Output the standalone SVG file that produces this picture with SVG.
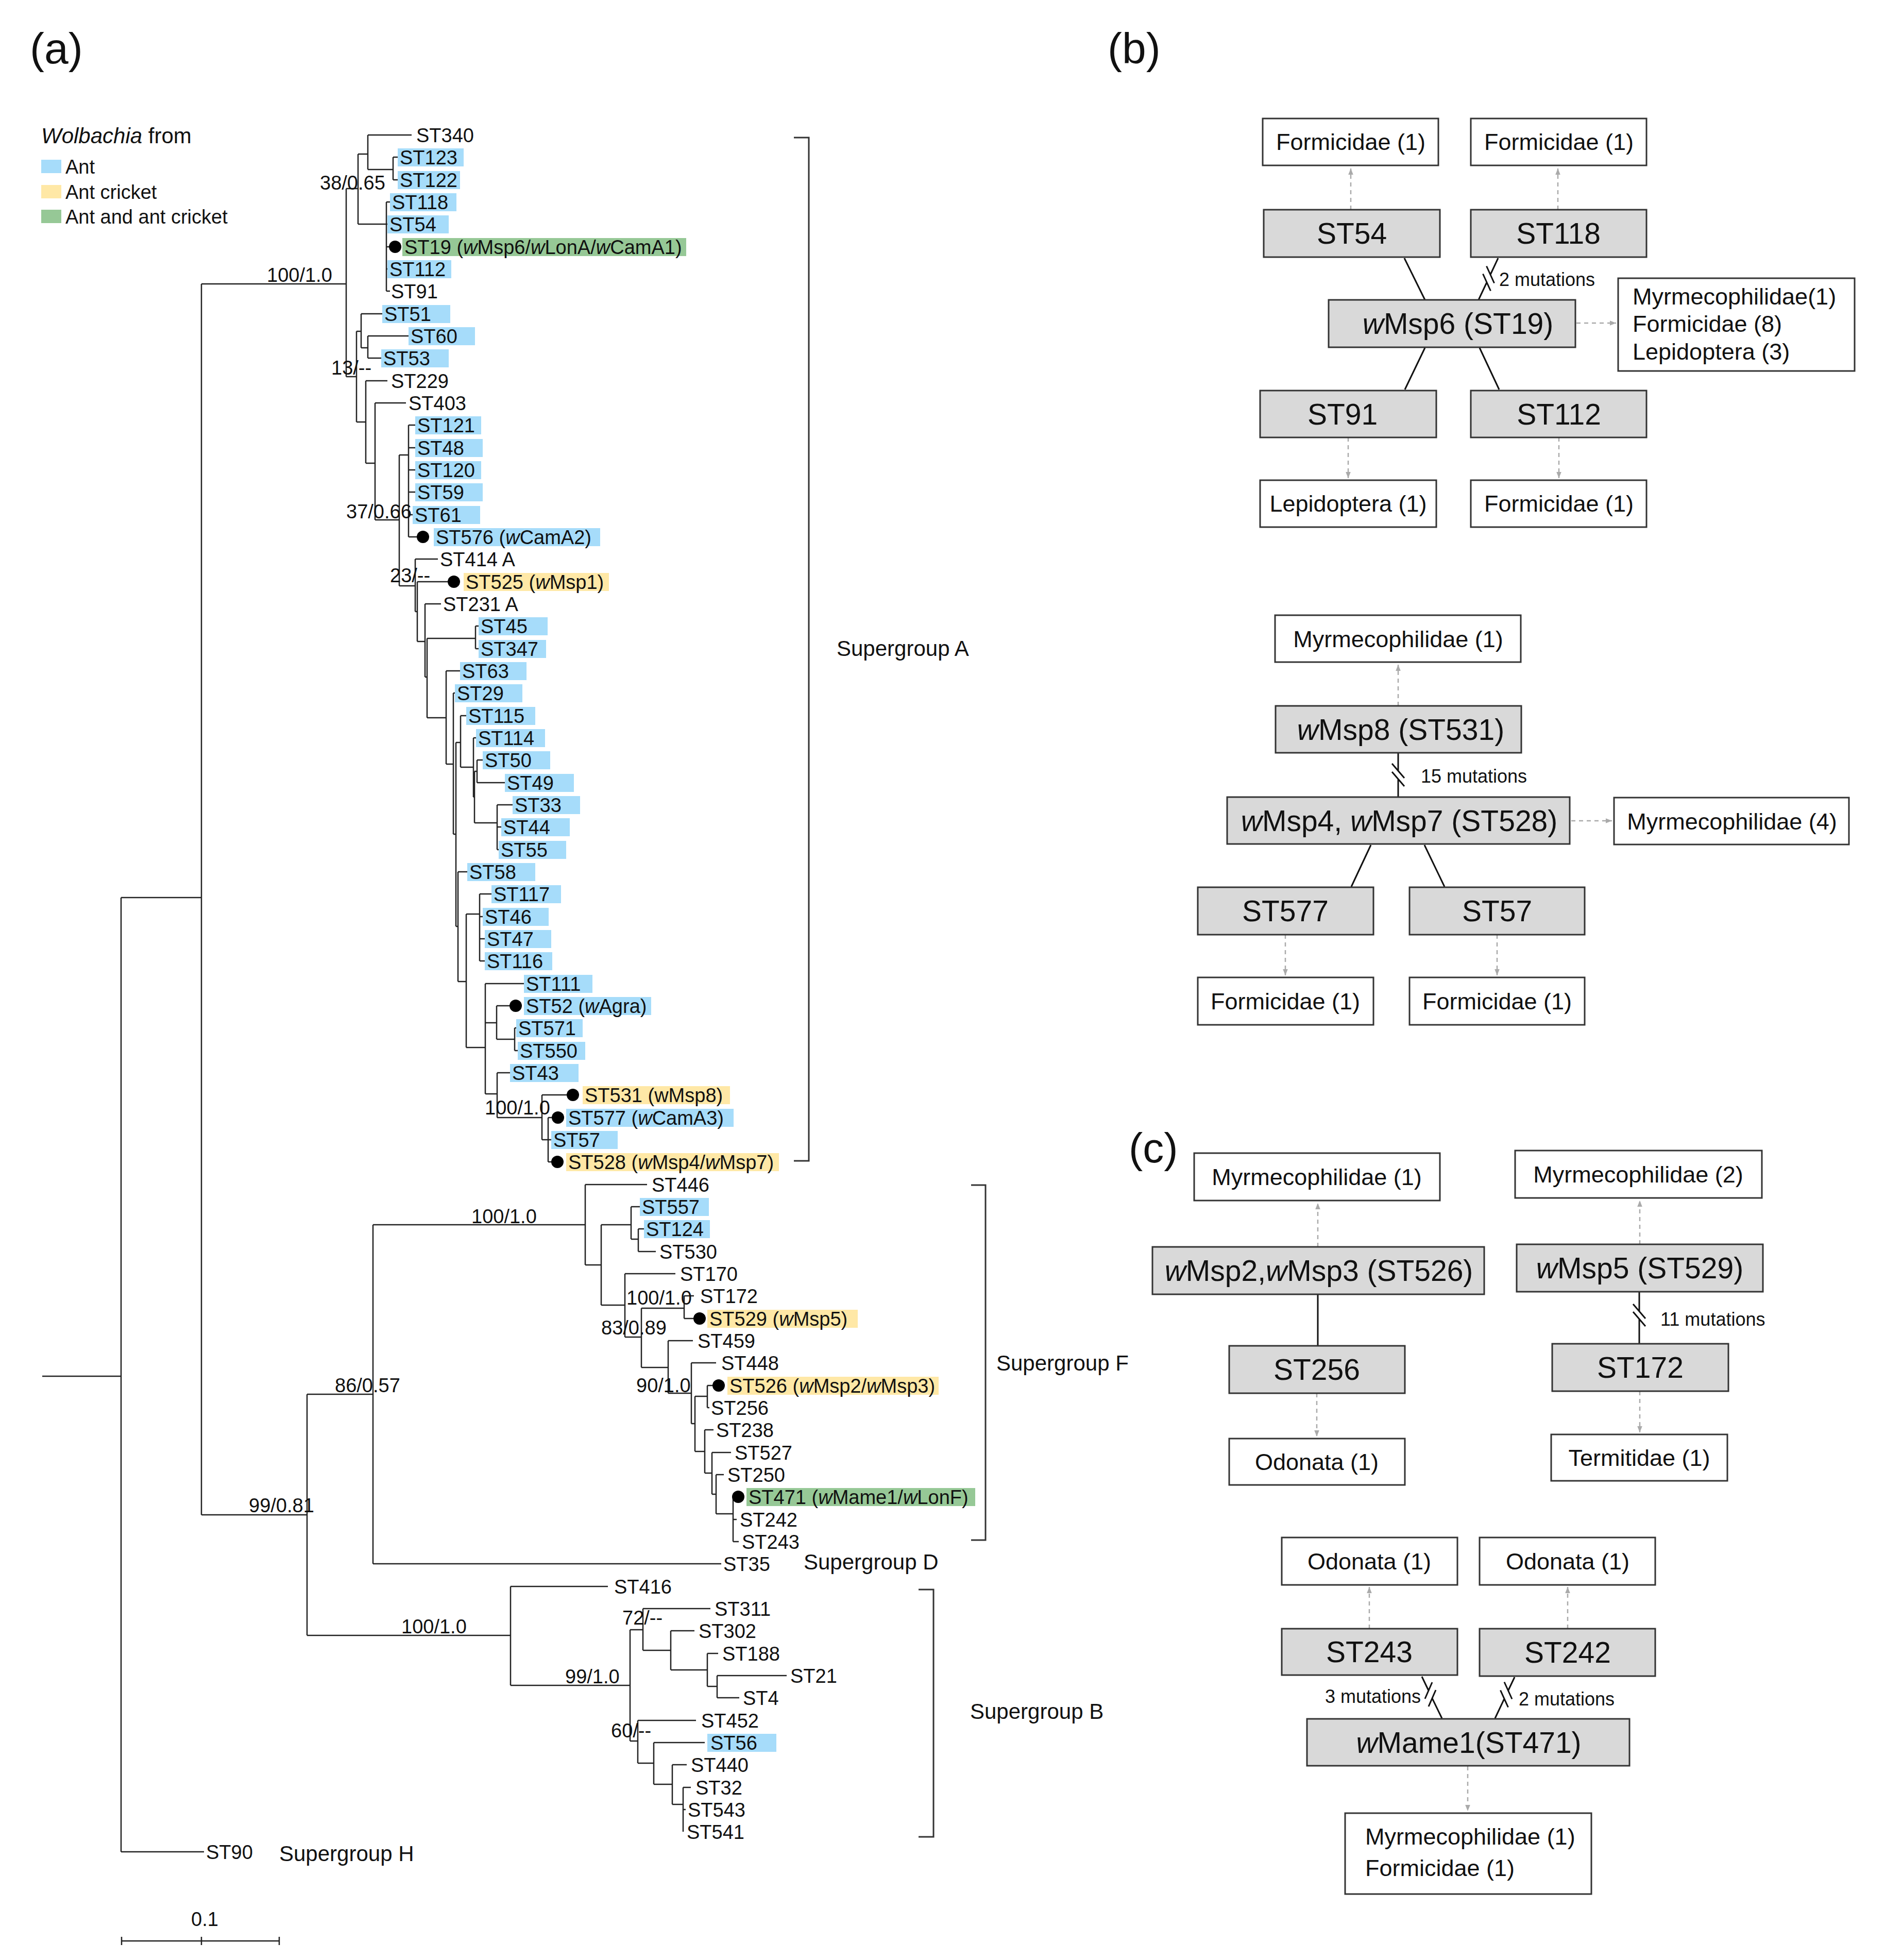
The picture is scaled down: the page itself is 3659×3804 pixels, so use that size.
<svg xmlns="http://www.w3.org/2000/svg" width="3659" height="3804" viewBox="0 0 3659 3804">
<style>
text { font-family: "Liberation Sans", Arial, sans-serif; fill: #111; }
.lf { font-size: 38px; }
.sg { font-size: 42px; }
.pl { font-size: 84px; }
.tr { fill: none; stroke: #222; stroke-width: 2.5; }
.br { fill: none; stroke: #333; stroke-width: 3; }
.ant { fill: #a6dcfa; }
.cri { fill: #ffe8a6; }
.grn { fill: #96c896; }
.dot { fill: #000; }
.gbox { fill: #d9d9d9; stroke: #333; stroke-width: 3; }
.wbox { fill: #fff; stroke: #333; stroke-width: 3; }
.gt { font-size: 57px; text-anchor: middle; }
.wt { font-size: 45px; text-anchor: middle; }
.wl { font-size: 45px; }
.mt { font-size: 36px; }
.sol { stroke: #111; stroke-width: 3; fill: none; }
.dash { stroke: #aaa; stroke-width: 2.5; stroke-dasharray: 8 7; fill: none; marker-end: url(#ah); }
.it { font-style: italic; }
</style>
<defs>
<marker id="ah" viewBox="0 0 10 10" refX="10" refY="5" markerWidth="13" markerHeight="12" markerUnits="userSpaceOnUse" orient="auto"><path d="M0,1 L10,5 L0,9 z" fill="#aaa"/></marker>
</defs>
<rect x="0" y="0" width="3659" height="3804" fill="#fff"/>

<!-- panel labels -->
<text class="pl" x="58" y="123">(a)</text>
<text class="pl" x="2150" y="123">(b)</text>
<text class="pl" x="2191" y="2256" style="font-size:82px">(c)</text>

<!-- legend -->
<g id="legend">
<text x="80" y="278" style="font-size:42px"><tspan class="it">Wolbachia</tspan> from</text>
<rect class="ant" x="80" y="310" width="39" height="26"/>
<text class="lf" x="127" y="337">Ant</text>
<rect class="cri" x="80" y="359" width="39" height="26"/>
<text class="lf" x="127" y="386">Ant cricket</text>
<rect class="grn" x="80" y="407" width="39" height="26"/>
<text class="lf" x="127" y="434">Ant and ant cricket</text>
</g>

<!-- tree connectors -->
<g id="tree-connectors">
<path class="tr" d="M82,2671H235 M235,1742V3594 M235,1742H391 M391,551V2940 M391,551H672
M672,366V731 M672,366H695 M695,299V435 M695,299H714 M714,262V329 M714,262H799 M714,329H763
M763,305V349 M763,305H772 M763,349H772 M695,435H750 M750,392V565 M750,392H757 M750,435H752
M750,479H755 M750,522H752 M750,565H757
M672,731H692 M692,643V819 M692,643H701 M701,609V675 M701,609H742 M701,675H714 M714,652V695
M714,652H793 M714,695H740 M692,819H710 M710,739V899 M710,739H752 M710,899H728 M728,782V1009
M728,782H788 M728,1009H775 M775,883V1137 M775,883H793 M793,825V1042 M793,825H806 M793,869H806
M793,912H806 M793,955H806 M793,999H801 M793,1042H809
M775,1137H806 M806,1085V1187 M806,1085H850 M806,1187H810 M810,1129V1245 M810,1129H869
M810,1245H825 M825,1172V1314 M825,1172H856 M825,1314H829 M829,1239V1393 M829,1239H923
M923,1215V1259 M923,1215H929 M923,1259H929 M829,1393H866 M866,1302V1483 M866,1302H893
M866,1483H880 M880,1345V1619 M880,1345H883 M880,1619H885 M885,1441V1798 M885,1441H894
M894,1389V1489 M894,1389H905 M894,1489H919 M919,1432V1547 M919,1432H924 M919,1547H921
M921,1497V1597 M921,1497H926 M926,1475V1519 M926,1475H937 M926,1519H980 M921,1597H965
M965,1562V1649 M965,1562H995 M965,1605H973 M965,1649H968
M885,1798H889 M889,1692V1905 M889,1692H907 M889,1905H905 M905,1774V2033 M905,1774H931
M931,1735V1865 M931,1735H954 M931,1779H937 M931,1822H941 M931,1865H941
M905,2033H942 M942,1909V2123 M942,1909H1017 M942,1985H964 M964,1952V2017 M964,1952H989
M964,2017H999 M999,1995V2039 M999,1995H1002 M999,2039H1005 M942,2123H965 M965,2082V2169
M965,2082H990 M965,2169H1052 M1052,2125V2212 M1052,2125H1100 M1052,2212H1064 M1064,2169V2255
M1064,2169H1071 M1064,2212H1070 M1064,2255H1070
M391,2940H596 M596,2706V3174 M596,2706H724 M724,2377V3035 M724,2377H1136 M724,3035H1400
M1136,2299V2455 M1136,2299H1256 M1136,2455H1167 M1167,2377V2533 M1167,2377H1225
M1225,2342V2405 M1225,2342H1242 M1225,2405H1239 M1239,2385V2429 M1239,2385H1250 M1239,2429H1273
M1167,2533H1213 M1213,2472V2595 M1213,2472H1311 M1213,2595H1245 M1245,2539V2654 M1245,2539H1328
M1328,2515V2559 M1328,2515H1347 M1328,2559H1346 M1245,2654H1297 M1297,2602V2704 M1297,2602H1345
M1297,2704H1342 M1342,2645V2763 M1342,2645H1390 M1342,2763H1349 M1349,2710V2817 M1349,2710H1373
M1373,2689V2732 M1373,2689H1383 M1373,2732H1377 M1349,2817H1368 M1368,2775V2859 M1368,2775H1385
M1368,2859H1382 M1382,2819V2900 M1382,2819H1419 M1382,2900H1390 M1390,2862V2938 M1390,2862H1405
M1390,2938H1423 M1423,2905V2992 M1423,2949H1430 M1423,2992H1434
M596,3174H991 M991,3079V3271 M991,3079H1180 M991,3271H1223 M1223,3163V3379 M1223,3163H1248
M1248,3122V3203 M1248,3122H1379 M1248,3203H1302 M1302,3165V3241 M1302,3165H1348 M1302,3241H1373
M1373,3209V3273 M1373,3209H1394 M1373,3273H1392 M1392,3252V3295 M1392,3252H1527 M1392,3295H1435
M1223,3379H1238 M1238,3339V3422 M1238,3339H1351 M1238,3422H1269 M1269,3382V3463 M1269,3382H1368
M1269,3463H1305 M1305,3425V3502 M1305,3425H1333 M1305,3502H1326 M1326,3469V3555 M1326,3469H1341
M1326,3512H1331 M235,3594H396"/>
<path class="tr" d="M236,3767H542 M236,3759V3775 M391,3759V3775 M542,3759V3775"/>
<path class="br" d="M1541,267H1570V2253H1541 M1885,2300H1913V2989H1885 M1783,3085H1812V3565H1783"/>
</g>

<!-- support values and group labels -->
<g id="tree-labels">
<text class="lf" x="518" y="547">100/1.0</text>
<text class="lf" x="621" y="368">38/0.65</text>
<text class="lf" x="643" y="727">13/--</text>
<text class="lf" x="672" y="1006">37/0.66</text>
<text class="lf" x="757" y="1130">23/--</text>
<text class="lf" x="941" y="2163">100/1.0</text>
<text class="lf" x="915" y="2374">100/1.0</text>
<text class="lf" x="1216" y="2532">100/1.0</text>
<text class="lf" x="1167" y="2590">83/0.89</text>
<text class="lf" x="1235" y="2702">90/1.0</text>
<text class="lf" x="650" y="2702">86/0.57</text>
<text class="lf" x="483" y="2935">99/0.81</text>
<text class="lf" x="779" y="3170">100/1.0</text>
<text class="lf" x="1208" y="3153">72/--</text>
<text class="lf" x="1097" y="3267">99/1.0</text>
<text class="lf" x="1186" y="3372">60/--</text>
<text class="lf" x="371" y="3738">0.1</text>
<text class="sg" x="1624" y="1273">Supergroup A</text>
<text class="sg" x="1934" y="2660">Supergroup F</text>
<text class="sg" x="1560" y="3046">Supergroup D</text>
<text class="sg" x="1883" y="3336">Supergroup B</text>
<text class="sg" x="542" y="3612">Supergroup H</text>
</g>

<!-- tree leaves -->
<g id="n-ST340"><text class="lf" x="808" y="276">ST340</text></g>
<g id="n-ST123"><rect class="ant" x="772" y="288" width="128" height="35"/><text class="lf" x="776" y="319">ST123</text></g>
<g id="n-ST122"><rect class="ant" x="772" y="332" width="121" height="35"/><text class="lf" x="776" y="363">ST122</text></g>
<g id="n-ST118"><rect class="ant" x="757" y="375" width="129" height="35"/><text class="lf" x="761" y="406">ST118</text></g>
<g id="n-ST54"><rect class="ant" x="752" y="418" width="119" height="35"/><text class="lf" x="756" y="449">ST54</text></g>
<g id="n-ST19"><circle class="dot" cx="767" cy="479" r="12"/><rect class="grn" x="781" y="462" width="551" height="35"/><text class="lf" x="785" y="493">ST19 (<tspan class="it">w</tspan>Msp6/<tspan class="it">w</tspan>LonA/<tspan class="it">w</tspan>CamA1)</text></g>
<g id="n-ST112"><rect class="ant" x="752" y="505" width="124" height="35"/><text class="lf" x="756" y="536">ST112</text></g>
<g id="n-ST91"><text class="lf" x="759" y="579">ST91</text></g>
<g id="n-ST51"><rect class="ant" x="742" y="592" width="132" height="35"/><text class="lf" x="746" y="623">ST51</text></g>
<g id="n-ST60"><rect class="ant" x="793" y="635" width="129" height="35"/><text class="lf" x="797" y="666">ST60</text></g>
<g id="n-ST53"><rect class="ant" x="740" y="678" width="131" height="35"/><text class="lf" x="744" y="709">ST53</text></g>
<g id="n-ST229"><text class="lf" x="759" y="753">ST229</text></g>
<g id="n-ST403"><text class="lf" x="793" y="796">ST403</text></g>
<g id="n-ST121"><rect class="ant" x="806" y="808" width="128" height="35"/><text class="lf" x="810" y="839">ST121</text></g>
<g id="n-ST48"><rect class="ant" x="806" y="852" width="131" height="35"/><text class="lf" x="810" y="883">ST48</text></g>
<g id="n-ST120"><rect class="ant" x="806" y="895" width="128" height="35"/><text class="lf" x="810" y="926">ST120</text></g>
<g id="n-ST59"><rect class="ant" x="806" y="938" width="131" height="35"/><text class="lf" x="810" y="969">ST59</text></g>
<g id="n-ST61"><rect class="ant" x="801" y="982" width="131" height="35"/><text class="lf" x="805" y="1013">ST61</text></g>
<g id="n-ST576"><circle class="dot" cx="821" cy="1042" r="12"/><rect class="ant" x="842" y="1025" width="323" height="35"/><text class="lf" x="846" y="1056">ST576 (<tspan class="it">w</tspan>CamA2)</text></g>
<g id="n-ST414A"><text class="lf" x="854" y="1099">ST414 A</text></g>
<g id="n-ST525"><circle class="dot" cx="881" cy="1129" r="12"/><rect class="cri" x="900" y="1112" width="282" height="35"/><text class="lf" x="904" y="1143">ST525 (<tspan class="it">w</tspan>Msp1)</text></g>
<g id="n-ST231A"><text class="lf" x="860" y="1186">ST231 A</text></g>
<g id="n-ST45"><rect class="ant" x="929" y="1198" width="134" height="35"/><text class="lf" x="933" y="1229">ST45</text></g>
<g id="n-ST347"><rect class="ant" x="929" y="1242" width="131" height="35"/><text class="lf" x="933" y="1273">ST347</text></g>
<g id="n-ST63"><rect class="ant" x="893" y="1285" width="129" height="35"/><text class="lf" x="897" y="1316">ST63</text></g>
<g id="n-ST29"><rect class="ant" x="883" y="1328" width="131" height="35"/><text class="lf" x="887" y="1359">ST29</text></g>
<g id="n-ST115"><rect class="ant" x="905" y="1372" width="134" height="35"/><text class="lf" x="909" y="1403">ST115</text></g>
<g id="n-ST114"><rect class="ant" x="924" y="1415" width="134" height="35"/><text class="lf" x="928" y="1446">ST114</text></g>
<g id="n-ST50"><rect class="ant" x="937" y="1458" width="131" height="35"/><text class="lf" x="941" y="1489">ST50</text></g>
<g id="n-ST49"><rect class="ant" x="980" y="1502" width="134" height="35"/><text class="lf" x="984" y="1533">ST49</text></g>
<g id="n-ST33"><rect class="ant" x="995" y="1545" width="131" height="35"/><text class="lf" x="999" y="1576">ST33</text></g>
<g id="n-ST44"><rect class="ant" x="973" y="1588" width="133" height="35"/><text class="lf" x="977" y="1619">ST44</text></g>
<g id="n-ST55"><rect class="ant" x="968" y="1632" width="131" height="35"/><text class="lf" x="972" y="1663">ST55</text></g>
<g id="n-ST58"><rect class="ant" x="907" y="1675" width="132" height="35"/><text class="lf" x="911" y="1706">ST58</text></g>
<g id="n-ST117"><rect class="ant" x="954" y="1718" width="135" height="35"/><text class="lf" x="958" y="1749">ST117</text></g>
<g id="n-ST46"><rect class="ant" x="937" y="1762" width="128" height="35"/><text class="lf" x="941" y="1793">ST46</text></g>
<g id="n-ST47"><rect class="ant" x="941" y="1805" width="129" height="35"/><text class="lf" x="945" y="1836">ST47</text></g>
<g id="n-ST116"><rect class="ant" x="941" y="1848" width="131" height="35"/><text class="lf" x="945" y="1879">ST116</text></g>
<g id="n-ST111"><rect class="ant" x="1017" y="1892" width="133" height="35"/><text class="lf" x="1021" y="1923">ST111</text></g>
<g id="n-ST52"><circle class="dot" cx="1001" cy="1952" r="12"/><rect class="ant" x="1017" y="1935" width="247" height="35"/><text class="lf" x="1021" y="1966">ST52 (<tspan class="it">w</tspan>Agra)</text></g>
<g id="n-ST571"><rect class="ant" x="1002" y="1978" width="129" height="35"/><text class="lf" x="1006" y="2009">ST571</text></g>
<g id="n-ST550"><rect class="ant" x="1005" y="2022" width="131" height="35"/><text class="lf" x="1009" y="2053">ST550</text></g>
<g id="n-ST43"><rect class="ant" x="990" y="2065" width="133" height="35"/><text class="lf" x="994" y="2096">ST43</text></g>
<g id="n-ST531"><circle class="dot" cx="1112" cy="2125" r="12"/><rect class="cri" x="1131" y="2108" width="286" height="35"/><text class="lf" x="1135" y="2139">ST531 (wMsp8)</text></g>
<g id="n-ST577"><circle class="dot" cx="1083" cy="2169" r="12"/><rect class="ant" x="1099" y="2152" width="325" height="35"/><text class="lf" x="1103" y="2183">ST577 (<tspan class="it">w</tspan>CamA3)</text></g>
<g id="n-ST57"><rect class="ant" x="1070" y="2195" width="129" height="35"/><text class="lf" x="1074" y="2226">ST57</text></g>
<g id="n-ST528"><circle class="dot" cx="1082" cy="2255" r="12"/><rect class="cri" x="1099" y="2238" width="413" height="35"/><text class="lf" x="1103" y="2269">ST528 (<tspan class="it">w</tspan>Msp4/<tspan class="it">w</tspan>Msp7)</text></g>
<g id="n-ST446"><text class="lf" x="1265" y="2313">ST446</text></g>
<g id="n-ST557"><rect class="ant" x="1242" y="2325" width="134" height="35"/><text class="lf" x="1246" y="2356">ST557</text></g>
<g id="n-ST124"><rect class="ant" x="1250" y="2368" width="128" height="35"/><text class="lf" x="1254" y="2399">ST124</text></g>
<g id="n-ST530"><text class="lf" x="1280" y="2443">ST530</text></g>
<g id="n-ST170"><text class="lf" x="1320" y="2486">ST170</text></g>
<g id="n-ST172"><text class="lf" x="1359" y="2529">ST172</text></g>
<g id="n-ST529"><circle class="dot" cx="1358" cy="2559" r="12"/><rect class="cri" x="1373" y="2542" width="292" height="35"/><text class="lf" x="1377" y="2573">ST529 (<tspan class="it">w</tspan>Msp5)</text></g>
<g id="n-ST459"><text class="lf" x="1354" y="2616">ST459</text></g>
<g id="n-ST448"><text class="lf" x="1400" y="2659">ST448</text></g>
<g id="n-ST526"><circle class="dot" cx="1395" cy="2689" r="12"/><rect class="cri" x="1412" y="2672" width="410" height="35"/><text class="lf" x="1416" y="2703">ST526 (<tspan class="it">w</tspan>Msp2/<tspan class="it">w</tspan>Msp3)</text></g>
<g id="n-ST256"><text class="lf" x="1380" y="2746">ST256</text></g>
<g id="n-ST238"><text class="lf" x="1390" y="2789">ST238</text></g>
<g id="n-ST527"><text class="lf" x="1426" y="2833">ST527</text></g>
<g id="n-ST250"><text class="lf" x="1412" y="2876">ST250</text></g>
<g id="n-ST471"><circle class="dot" cx="1433" cy="2905" r="12"/><rect class="grn" x="1449" y="2888" width="444" height="35"/><text class="lf" x="1453" y="2919">ST471 (<tspan class="it">w</tspan>Mame1/<tspan class="it">w</tspan>LonF)</text></g>
<g id="n-ST242"><text class="lf" x="1436" y="2963">ST242</text></g>
<g id="n-ST243"><text class="lf" x="1440" y="3006">ST243</text></g>
<g id="n-ST35"><text class="lf" x="1404" y="3049">ST35</text></g>
<g id="n-ST416"><text class="lf" x="1192" y="3093">ST416</text></g>
<g id="n-ST311"><text class="lf" x="1387" y="3136">ST311</text></g>
<g id="n-ST302"><text class="lf" x="1356" y="3179">ST302</text></g>
<g id="n-ST188"><text class="lf" x="1402" y="3223">ST188</text></g>
<g id="n-ST21"><text class="lf" x="1534" y="3266">ST21</text></g>
<g id="n-ST4"><text class="lf" x="1442" y="3309">ST4</text></g>
<g id="n-ST452"><text class="lf" x="1361" y="3353">ST452</text></g>
<g id="n-ST56"><rect class="ant" x="1373" y="3365" width="134" height="35"/><text class="lf" x="1379" y="3396">ST56</text></g>
<g id="n-ST440"><text class="lf" x="1341" y="3439">ST440</text></g>
<g id="n-ST32"><text class="lf" x="1350" y="3483">ST32</text></g>
<g id="n-ST543"><text class="lf" x="1335" y="3526">ST543</text></g>
<g id="n-ST541"><text class="lf" x="1333" y="3569">ST541</text></g>
<g id="n-ST90"><text class="lf" x="400" y="3608">ST90</text></g>

<!-- panel b / c connectors -->
<g id="network-connectors">
<path class="dash" d="M2622,407V327"/>
<path class="dash" d="M3024,407V327"/>
<path class="dash" d="M3060,627H3137"/>
<path class="dash" d="M2617,849V928"/>
<path class="dash" d="M3026,849V928"/>
<path class="sol" d="M2726,501L2766,582"/>
<path class="sol" d="M2908,501L2893,533 M2886,548L2870,582 M2885.5,516.5L2900.5,549.5 M2878.5,531.5L2893.5,564.5"/>
<path class="sol" d="M2766,675L2727,756 M2872,675L2910,756"/>
<path class="dash" d="M2714,1370V1290"/>
<path class="sol" d="M2714,1461V1496 M2714,1512V1547 M2702,1482L2726,1510 M2702,1498L2726,1526"/>
<path class="dash" d="M3050,1593H3129"/>
<path class="sol" d="M2661,1640L2623,1721 M2765,1640L2804,1721"/>
<path class="dash" d="M2495,1814V1893"/>
<path class="dash" d="M2906,1814V1893"/>
<path class="dash" d="M2558,2420V2335"/>
<path class="sol" d="M2558,2512V2612"/>
<path class="dash" d="M2556,2704V2788"/>
<path class="dash" d="M3183,2415V2330"/>
<path class="sol" d="M3182,2507V2545 M3182,2560V2608 M3170,2531L3194,2559 M3170,2546L3194,2574"/>
<path class="dash" d="M3183,2700V2780"/>
<path class="dash" d="M2658,3161V3080"/>
<path class="dash" d="M3043,3161V3080"/>
<path class="sol" d="M2760,3254L2773,3281 M2780,3296L2799,3335 M2780,3265L2766,3297 M2787,3280L2773,3312"/>
<path class="sol" d="M2940,3255L2927.6,3281 M2920,3297L2902,3335 M2920,3264.5L2935,3297.5 M2912.5,3280.5L2927.5,3313.5"/>
<path class="dash" d="M2849,3428V3515"/>
<text class="mt" x="2910" y="555">2 mutations</text>
<text class="mt" x="2758" y="1519">15 mutations</text>
<text class="mt" x="3223" y="2573">11 mutations</text>
<text class="mt" x="2572" y="3305">3 mutations</text>
<text class="mt" x="2948" y="3310">2 mutations</text>
</g>

<!-- panel b nodes -->
<g id="b-form-st54"><rect class="wbox" x="2451" y="230" width="341" height="91"/><text class="wt" x="2622" y="291">Formicidae (1)</text></g>
<g id="b-form-st118"><rect class="wbox" x="2855" y="230" width="341" height="91"/><text class="wt" x="3026" y="291">Formicidae (1)</text></g>
<g id="b-st54"><rect class="gbox" x="2453" y="407" width="342" height="92"/><text class="gt" x="2624" y="473">ST54</text></g>
<g id="b-st118"><rect class="gbox" x="2855" y="407" width="341" height="92"/><text class="gt" x="3025" y="473">ST118</text></g>
<g id="b-wmsp6"><rect class="gbox" x="2579" y="582" width="479" height="92"/><text class="gt" x="2830" y="648"><tspan class="it">w</tspan>Msp6 (ST19)</text></g>
<g id="b-hosts-st19"><rect class="wbox" x="3141" y="540" width="459" height="180"/><text class="wl" x="3169" y="591">Myrmecophilidae(1)</text><text class="wl" x="3169" y="644">Formicidae (8)</text><text class="wl" x="3169" y="698">Lepidoptera (3)</text></g>
<g id="b-st91"><rect class="gbox" x="2446" y="758" width="342" height="91"/><text class="gt" x="2606" y="824">ST91</text></g>
<g id="b-st112"><rect class="gbox" x="2855" y="758" width="341" height="91"/><text class="gt" x="3026" y="824">ST112</text></g>
<g id="b-lep-st91"><rect class="wbox" x="2446" y="932" width="342" height="91"/><text class="wt" x="2617" y="993">Lepidoptera (1)</text></g>
<g id="b-form-st112"><rect class="wbox" x="2855" y="932" width="341" height="91"/><text class="wt" x="3026" y="993">Formicidae (1)</text></g>

<g id="b-myrm-st531"><rect class="wbox" x="2475" y="1194" width="477" height="91"/><text class="wt" x="2714" y="1256">Myrmecophilidae (1)</text></g>
<g id="b-wmsp8"><rect class="gbox" x="2476" y="1370" width="477" height="91"/><text class="gt" x="2719" y="1436"><tspan class="it">w</tspan>Msp8 (ST531)</text></g>
<g id="b-wmsp47"><rect class="gbox" x="2382" y="1547" width="665" height="91"/><text class="gt" x="2716" y="1613"><tspan class="it">w</tspan>Msp4, <tspan class="it">w</tspan>Msp7 (ST528)</text></g>
<g id="b-myrm-st528"><rect class="wbox" x="3133" y="1548" width="456" height="91"/><text class="wt" x="3362" y="1610">Myrmecophilidae (4)</text></g>
<g id="b-st577"><rect class="gbox" x="2325" y="1722" width="341" height="92"/><text class="gt" x="2495" y="1788">ST577</text></g>
<g id="b-st57"><rect class="gbox" x="2736" y="1722" width="340" height="92"/><text class="gt" x="2906" y="1788">ST57</text></g>
<g id="b-form-st577"><rect class="wbox" x="2325" y="1897" width="341" height="92"/><text class="wt" x="2495" y="1959">Formicidae (1)</text></g>
<g id="b-form-st57"><rect class="wbox" x="2736" y="1897" width="340" height="92"/><text class="wt" x="2906" y="1959">Formicidae (1)</text></g>

<!-- panel c nodes -->
<g id="c-myrm-st526"><rect class="wbox" x="2318" y="2238" width="477" height="92"/><text class="wt" x="2556" y="2300">Myrmecophilidae (1)</text></g>
<g id="c-myrm-st529"><rect class="wbox" x="2941" y="2233" width="479" height="92"/><text class="wt" x="3180" y="2295">Myrmecophilidae (2)</text></g>
<g id="c-wmsp23"><rect class="gbox" x="2237" y="2420" width="644" height="92"/><text class="gt" x="2560" y="2486"><tspan class="it">w</tspan>Msp2,<tspan class="it">w</tspan>Msp3 (ST526)</text></g>
<g id="c-wmsp5"><rect class="gbox" x="2944" y="2415" width="478" height="92"/><text class="gt" x="3183" y="2481"><tspan class="it">w</tspan>Msp5 (ST529)</text></g>
<g id="c-st256"><rect class="gbox" x="2386" y="2612" width="341" height="92"/><text class="gt" x="2556" y="2678">ST256</text></g>
<g id="c-st172"><rect class="gbox" x="3013" y="2608" width="342" height="92"/><text class="gt" x="3184" y="2674">ST172</text></g>
<g id="c-odo-st256"><rect class="wbox" x="2386" y="2792" width="341" height="90"/><text class="wt" x="2556" y="2853">Odonata (1)</text></g>
<g id="c-term-st172"><rect class="wbox" x="3011" y="2784" width="342" height="90"/><text class="wt" x="3182" y="2845">Termitidae (1)</text></g>
<g id="c-odo-st243"><rect class="wbox" x="2488" y="2984" width="341" height="92"/><text class="wt" x="2658" y="3046">Odonata (1)</text></g>
<g id="c-odo-st242"><rect class="wbox" x="2872" y="2984" width="341" height="92"/><text class="wt" x="3043" y="3046">Odonata (1)</text></g>
<g id="c-st243"><rect class="gbox" x="2488" y="3161" width="341" height="90"/><text class="gt" x="2658" y="3226">ST243</text></g>
<g id="c-st242"><rect class="gbox" x="2872" y="3161" width="341" height="92"/><text class="gt" x="3043" y="3227">ST242</text></g>
<g id="c-wmame1"><rect class="gbox" x="2537" y="3336" width="626" height="91"/><text class="gt" x="2851" y="3402"><tspan class="it">w</tspan>Mame1(ST471)</text></g>
<g id="c-hosts-st471"><rect class="wbox" x="2611" y="3519" width="478" height="157"/><text class="wl" x="2650" y="3580">Myrmecophilidae (1)</text><text class="wl" x="2650" y="3641">Formicidae (1)</text></g>
</svg>
